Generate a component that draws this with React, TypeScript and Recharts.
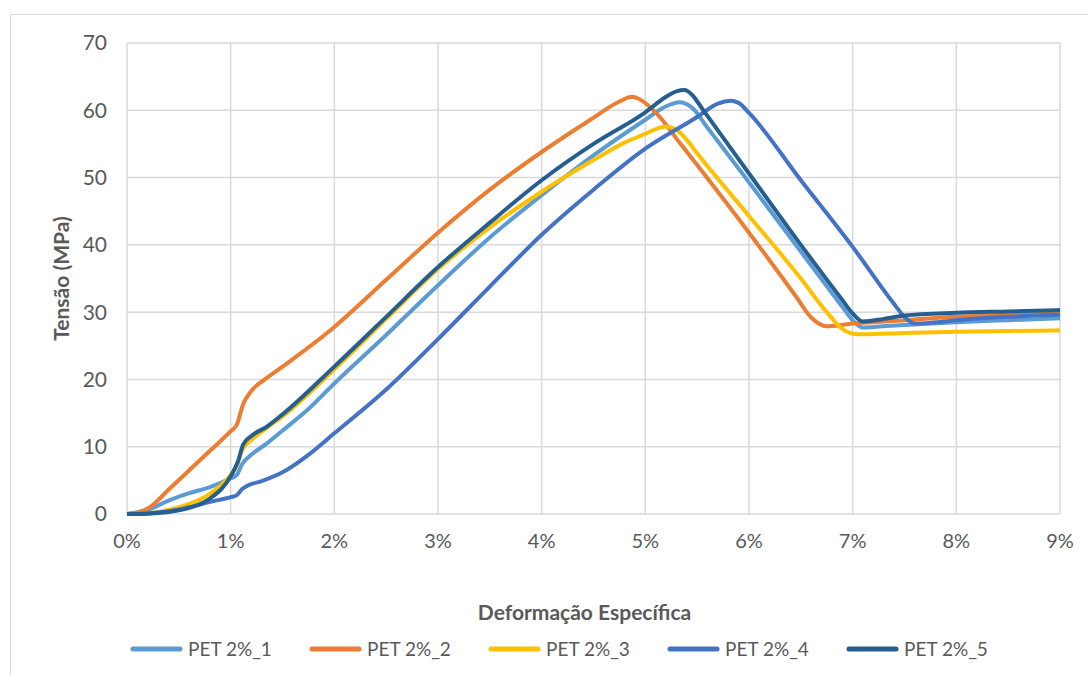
import { LineChart, Line, XAxis, YAxis, CartesianGrid } from 'recharts';

// strain in %, stress in MPa
const pet1X = [0, 0.2, 0.4, 0.6, 0.8, 1.0, 1.06, 1.11, 1.2, 1.35, 1.5, 1.75, 2.0, 2.5, 3.0, 3.5, 4.0, 4.5, 5.0, 5.2, 5.33, 5.45, 5.6, 6.0, 6.5, 6.9, 7.0, 7.1, 7.2, 7.5, 8.0, 8.5, 9.0];
const pet1Y = [0, 0.6, 2.0, 3.1, 4.0, 5.3, 5.8, 7.4, 8.8, 10.5, 12.4, 15.6, 19.4, 26.6, 34.0, 41.1, 47.4, 53.3, 58.6, 60.6, 61.2, 60.4, 57.4, 49.3, 39.0, 30.8, 28.8, 27.7, 27.8, 28.1, 28.5, 28.8, 29.1];

const pet2X = [0, 0.1, 0.22, 0.4, 0.6, 0.8, 1.0, 1.06, 1.12, 1.2, 1.32, 1.5, 2.0, 2.5, 3.0, 3.5, 4.0, 4.47, 4.75, 4.87, 4.97, 5.11, 5.33, 6.0, 6.45, 6.6, 6.75, 7.0, 7.5, 8.0, 8.5, 9.0];
const pet2Y = [0, 0.2, 1.0, 3.6, 6.5, 9.4, 12.3, 13.3, 16.3, 18.3, 19.9, 21.9, 27.8, 34.8, 41.8, 48.2, 53.8, 58.6, 61.3, 62.0, 61.4, 59.5, 55.2, 41.8, 32.4, 29.2, 27.9, 28.3, 28.8, 29.3, 29.6, 29.9];

const pet3X = [0, 0.2, 0.4, 0.6, 0.8, 1.0, 1.06, 1.11, 1.2, 1.35, 1.5, 2.0, 2.5, 3.0, 3.5, 4.0, 4.5, 4.8, 5.0, 5.1, 5.2, 5.3, 5.4, 5.5, 6.0, 6.5, 6.75, 6.9, 7.0, 7.1, 7.5, 8.0, 8.5, 9.0];
const pet3Y = [0, 0.1, 0.6, 1.5, 3.0, 5.8, 7.2, 9.5, 11.0, 12.8, 14.5, 21.5, 29.0, 36.4, 42.6, 47.9, 52.6, 55.2, 56.5, 57.2, 57.6, 57.1, 55.6, 53.6, 44.3, 35.0, 30.0, 27.5, 26.8, 26.7, 26.9, 27.1, 27.2, 27.3];

const pet4X = [0, 0.2, 0.4, 0.6, 0.8, 1.0, 1.06, 1.11, 1.16, 1.3, 1.5, 1.75, 2.0, 2.5, 3.0, 3.5, 4.0, 4.5, 5.0, 5.5, 5.7, 5.82, 5.9, 6.0, 6.5, 7.0, 7.4, 7.5, 7.6, 7.8, 8.0, 8.5, 9.0];
const pet4Y = [0, 0.1, 0.4, 1.0, 1.8, 2.5, 2.8, 3.7, 4.2, 4.9, 6.2, 8.8, 12.0, 18.5, 26.0, 33.8, 41.5, 48.2, 54.3, 59.0, 61.0, 61.4, 61.1, 59.6, 49.6, 39.7, 31.2, 29.3, 28.3, 28.5, 28.8, 29.3, 29.6];

const pet5X = [0, 0.2, 0.4, 0.6, 0.8, 1.0, 1.07, 1.12, 1.2, 1.35, 1.5, 2.0, 2.5, 3.0, 3.5, 4.0, 4.5, 5.0, 5.2, 5.3, 5.38, 5.45, 5.55, 6.0, 6.5, 6.9, 7.0, 7.1, 7.3, 7.5, 8.0, 8.5, 9.0];
const pet5Y = [0, 0.05, 0.3, 0.9, 2.3, 5.6, 7.8, 10.3, 11.6, 13.0, 14.8, 21.9, 29.3, 36.7, 43.3, 49.6, 55.0, 59.7, 62.0, 62.8, 63.0, 62.3, 60.2, 50.6, 40.0, 31.8, 29.8, 28.6, 29.0, 29.5, 29.9, 30.1, 30.3];

const xTicks = [0, 1, 2, 3, 4, 5, 6, 7, 8, 9];
const yTicks = [0, 10, 20, 30, 40, 50, 60, 70];

const seriesNames = ['PET 2%_1', 'PET 2%_2', 'PET 2%_3', 'PET 2%_4', 'PET 2%_5'];
const seriesColors = ['#5B9BD5', '#ED7D31', '#FFC000', '#4472C4', '#255E91'];

const toPoints = (xs: number[], ys: number[]) => xs.map((x, i) => ({ x, y: ys[i] }));

const series = [
  toPoints(pet1X, pet1Y),
  toPoints(pet2X, pet2Y),
  toPoints(pet3X, pet3Y),
  toPoints(pet4X, pet4Y),
  toPoints(pet5X, pet5Y),
];

const font = 'Lato, sans-serif';
const textColor = '#595959';

export default function App() {
  return (
    <div style={{ position: 'absolute', left: 0, top: 0, width: 1088, height: 675, background: '#fff', overflow: 'hidden' }}>
      <div
        style={{
          position: 'absolute',
          left: 10,
          top: 14,
          width: 1090,
          height: 680,
          border: '1px solid #D9D9D9',
          boxSizing: 'border-box',
        }}
      />
      <div style={{ position: 'absolute', left: 0, top: 0 }}>
        <LineChart
          width={1088}
          height={675}
          margin={{ top: 43, right: 28, left: 10, bottom: 101 }}
        >
          <CartesianGrid stroke="#D9D9D9" strokeWidth={1.5} />
          <XAxis
            type="number"
            dataKey="x"
            domain={[0, 9]}
            ticks={xTicks}
            tickFormatter={(v: number) => `${v}%`}
            axisLine={false}
            tickLine={false}
            tickSize={0}
            tickMargin={20}
            height={60}
            tick={{ fill: textColor, fontSize: 20, fontFamily: font }}
            allowDuplicatedCategory={false}
            label={{
              value: 'Deformação Específica',
              position: 'bottom',
              offset: 31,
              dx: -9,
              style: { fill: textColor, fontSize: 21, fontWeight: 700, fontFamily: font },
            }}
          />
          <YAxis
            type="number"
            domain={[0, 70]}
            ticks={yTicks}
            axisLine={false}
            tickLine={false}
            tickSize={0}
            tickMargin={20}
            width={117}
            tick={{ fill: textColor, fontSize: 21, fontFamily: font }}
            label={{
              value: 'Tensão (MPa)',
              angle: -90,
              position: 'insideLeft',
              offset: 52,
              style: { textAnchor: 'middle', fill: textColor, fontSize: 21, fontWeight: 700, fontFamily: font },
            }}
          />
          {series.map((data, i) => (
            <Line
              key={seriesNames[i]}
              data={data}
              dataKey="y"
              name={seriesNames[i]}
              type="monotone"
              stroke={seriesColors[i]}
              strokeWidth={4}
              dot={false}
              activeDot={false}
              isAnimationActive={false}
            />
          ))}
        </LineChart>
      </div>
      <div
        style={{
          position: 'absolute',
          left: 130,
          top: 637,
          display: 'flex',
          fontFamily: font,
          fontSize: 19,
          color: textColor,
        }}
      >
        {seriesNames.map((name, i) => (
          <div key={name} style={{ display: 'flex', alignItems: 'center', gap: 5, width: 179 }}>
            <svg width={53} height={10}>
              <line x1={3} y1={5} x2={50} y2={5} stroke={seriesColors[i]} strokeWidth={5} strokeLinecap="round" />
            </svg>
            <span>{name}</span>
          </div>
        ))}
      </div>
    </div>
  );
}
